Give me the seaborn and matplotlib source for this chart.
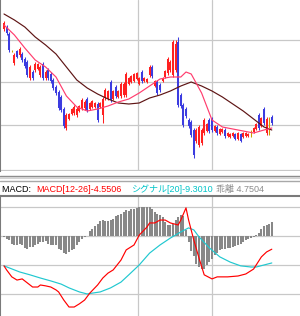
import numpy as np
import matplotlib
matplotlib.use("Agg")
import matplotlib.pyplot as plt
import seaborn as sns
from matplotlib.lines import Line2D

# ---------------- data (price panel) ----------------
opens = [271, 273, 266, 249, 237, 249, 245, 246, 241, 238, 222, 228, 230, 231, 225, 236, 222, 230, 226, 220,
         213, 208, 203, 191, 172, 181, 186, 187, 185, 189, 192, 192, 201, 191, 193, 193, 196, 193, 185, 202,
         201, 218, 201, 213, 203, 204, 205, 205, 216, 218, 219, 221, 216, 228, 219, 218, 225, 233, 214, 218,
         215, 219, 223, 227, 230, 225, 230, 258, 205, 195, 191, 180, 178, 170, 159, 155, 157, 167, 169, 180,
         181, 169, 173, 166, 168, 170, 164, 163, 164, 166, 161, 166, 163, 164, 164, 167, 168, 171, 185, 174,
         191, 167, 174, 183]
highs = [279, 275, 268, 250, 247, 250, 253, 248, 243, 240, 235, 230, 238, 237, 235, 238, 230, 232, 228, 222,
         215, 210, 205, 193, 187, 187, 192, 195, 193, 195, 202, 200, 203, 198, 200, 198, 198, 198, 203, 212,
         210, 220, 210, 215, 210, 218, 218, 228, 223, 225, 227, 228, 223, 230, 223, 222, 235, 235, 220, 220,
         217, 223, 230, 243, 240, 260, 260, 263, 207, 197, 193, 182, 180, 172, 172, 175, 172, 182, 177, 182,
         183, 175, 175, 172, 172, 172, 168, 167, 168, 167, 168, 167, 168, 168, 167, 170, 173, 177, 187, 183,
         193, 183, 183, 185]
lows = [269, 265, 248, 248, 235, 242, 243, 238, 232, 223, 220, 220, 228, 230, 223, 220, 220, 220, 217, 210,
        205, 190, 188, 172, 170, 180, 185, 185, 183, 188, 190, 190, 188, 190, 192, 192, 178, 192, 177, 200,
        200, 198, 200, 202, 202, 202, 203, 203, 215, 217, 218, 220, 215, 217, 218, 217, 223, 222, 213, 205,
        208, 218, 222, 225, 228, 223, 228, 193, 192, 173, 182, 172, 163, 142, 157, 153, 155, 165, 168, 167,
        168, 168, 165, 165, 167, 162, 163, 162, 163, 160, 160, 158, 162, 163, 163, 163, 167, 170, 170, 173,
        175, 165, 165, 175]
closes = [277, 267, 250, 249, 245, 243, 251, 240, 234, 225, 233, 222, 236, 236, 233, 222, 228, 222, 219, 212,
          207, 192, 190, 174, 185, 186, 191, 193, 191, 194, 200, 198, 190, 197, 199, 197, 180, 197, 201, 210,
          209, 200, 209, 204, 209, 216, 216, 226, 222, 224, 226, 227, 222, 219, 222, 221, 233, 224, 219, 207,
          210, 222, 229, 241, 238, 258, 256, 195, 194, 175, 184, 174, 165, 145, 170, 173, 170, 180, 176, 169,
          170, 174, 167, 171, 171, 164, 167, 166, 167, 161, 167, 159, 167, 167, 166, 167, 172, 176, 172, 182,
          177, 181, 174, 177]

ma_short_idx = [0, 4, 8, 12, 16, 20, 24, 28, 32, 36, 40, 44, 48, 52, 56, 60, 64, 68, 70, 72, 76, 80, 84, 88,
                92, 96, 100, 103]
ma_short = [275, 265, 252, 240, 233, 223, 204, 193, 189, 191, 194, 198, 201, 207, 214, 221, 223, 223, 228,
            226, 207, 180, 173, 171, 169, 167, 170, 172]
ma_long_idx = [0, 4, 8, 12, 16, 20, 24, 28, 32, 36, 40, 44, 48, 52, 56, 60, 64, 68, 72, 76, 80, 84, 88, 92,
               96, 100, 103]
ma_long = [286, 280, 273, 263, 255, 246, 233, 220, 212, 206, 201, 197, 196, 197, 202, 205, 209, 214, 218, 214,
           209, 203, 196, 189, 181, 173, 170]

# ---------------- data (MACD panel) ----------------
macd_idx = [0, 1, 3, 5, 7, 9, 11, 13, 14, 16, 18, 20, 21, 23, 25, 27, 29, 31, 33, 36, 38, 40, 42, 45, 47, 50,
            52, 55, 56, 58, 60, 62, 64, 67, 68, 70, 71, 73, 75, 77, 80, 82, 86, 90, 93, 96, 99, 101, 103]
macd_vals = [-10.3, -11.7, -14.1, -15.2, -14.8, -16.2, -17.6, -17.6, -16.9, -17.2, -17.6, -18.6, -19.3, -22.1,
             -24.5, -24.5, -23.4, -22.1, -19.7, -16.9, -14.5, -12.8, -11.7, -8.3, -4.8, -3.1, 0.3, 3.1, 4.5,
             4.5, 5.5, 5.5, 4.5, 3.8, 5.5, 9.7, 5.5, -1.4, -7.6, -13.4, -14.8, -14.1, -14.1, -13.8, -13.1,
             -11.4, -7.2, -5.5, -4.55]
signal_idx = [0, 2, 6, 10, 14, 18, 22, 25, 29, 32, 34, 37, 41, 45, 48, 52, 56, 60, 64, 68, 71, 73, 75, 79, 83,
              87, 91, 95, 97, 100, 103]
signal_vals = [-10.3, -11.0, -12.4, -13.4, -14.5, -15.5, -16.6, -17.9, -19.3, -20.0, -19.7, -19.3, -17.9,
               -15.9, -13.4, -10.0, -5.9, -3.1, -0.7, 1.4, 2.8, 2.1, -0.3, -4.1, -7.2, -9.0, -10.3, -10.7,
               -10.7, -10.0, -9.30]
hist_vals = [-0.3, -0.9, -1.5, -2.6, -3.0, -3.0, -2.6, -3.0, -4.1, -4.4, -3.8, -3.8, -3.2, -2.6, -2.1, -2.1,
             -1.8, -2.6, -3.0, -3.2, -3.0, -4.4, -4.9, -5.7, -6.1, -5.5, -4.9, -4.4, -3.2, -2.1, -1.1, -0.3,
             0.0, 1.6, 2.5, 3.4, 4.3, 5.1, 5.4, 5.2, 5.1, 5.4, 6.0, 6.9, 7.4, 7.7, 8.3, 8.9, 8.5, 9.2,
             9.4, 9.7, 10.0, 10.0, 10.0, 10.0, 10.0, 9.4, 8.3, 7.7, 7.1, 6.6, 4.8, 3.7, 3.7, 4.3, 5.4, 6.6,
             7.1, 6.9, 2.0, -2.1, -5.2, -6.9, -9.7, -10.7, -11.5, -11.3, -10.1, -9.0, -7.8, -6.7, -5.7, -4.9,
             -4.4, -4.4, -4.1, -4.1, -3.8, -3.4, -3.0, -2.6, -2.1, -1.5, -1.1, -0.7, -0.3, 0.3, 1.1, 2.5,
             3.4, 3.9, 4.3, 4.75]

price_grid = [260, 218, 175, 130]
macd_grid = [10, 0, -10, -20]
month_breaks = [51.5, 80]

header = [("MACD: ", "#000000"), ("MACD[12-26]-4.5506", "#ff0000"),
          ("シグナル[20]-9.3010", "#00c4c8"), ("乖離 4.7504", "#8c8c8c")]
header_x = [2, 36, 131, 216]

# ---------------- figure ----------------
sns.set_style("white")
plt.rcParams['font.family'] = ['Liberation Sans', 'Noto Sans CJK JP']

W, H = 300, 316
fig = plt.figure(figsize=(W / 100, H / 100), dpi=100)
fig.patch.set_facecolor("white")

def px_to_fig_y(px):
    return 1 - px / H

top_bottom_px = 171
ax1 = fig.add_axes([0, px_to_fig_y(top_bottom_px), 1, top_bottom_px / H])
ax2 = fig.add_axes([0, 0, 1, (H - 196) / H])

x_lo, x_hi = -4 / 2.6, 296 / 2.6
grid_c = "#c8c8c8"
frame_c = "#7a7a7a"

for ax in (ax1, ax2):
    ax.set_xlim(x_lo, x_hi)
    ax.set_xticks([])
    ax.set_yticks([])
    for s in ax.spines.values():
        s.set_visible(False)
    ax.spines['left'].set_visible(True)
    ax.spines['left'].set_color(frame_c)
    ax.spines['left'].set_linewidth(1.5)
    for mb in month_breaks:
        ax.axvline(mb, color=grid_c, lw=0.9, zorder=0)
    ax.set_facecolor("white")

ax2.spines['top'].set_visible(True)
ax2.spines['top'].set_color(frame_c)
ax2.spines['top'].set_linewidth(1.5)

# price panel
ax1.set_ylim(129, 300)
for g in price_grid:
    ax1.axhline(g, color=grid_c, lw=0.9, zorder=0)

idx = np.arange(len(opens))
o = np.array(opens); c = np.array(closes)
cols = np.where(c > o, "#ff2020", np.where(c < o, "#3c3ce0", "#c8a000"))
ax1.vlines(idx, lows, highs, colors=cols, linewidth=0.75, zorder=2)
ax1.vlines(idx, np.minimum(o, c), np.maximum(o, c), colors=cols, linewidth=1.45, zorder=2)

sns.lineplot(x=ma_long_idx, y=ma_long, ax=ax1, color="#5e1414", linewidth=0.85, zorder=3)
sns.lineplot(x=ma_short_idx, y=ma_short, ax=ax1, color="#ff3d6e", linewidth=0.85, zorder=4)

# MACD panel
ax2.set_ylim(-27.6, 13.8)
for g in macd_grid:
    ax2.axhline(g, color=grid_c, lw=0.9, zorder=0)
ax2.vlines(np.arange(len(hist_vals)), 0, hist_vals, colors="#888888", linewidth=1.45, zorder=2)
sns.lineplot(x=signal_idx, y=signal_vals, ax=ax2, color="#20c8d0", linewidth=0.85, zorder=3)
sns.lineplot(x=macd_idx, y=macd_vals, ax=ax2, color="#ff0000", linewidth=0.85, zorder=4)
ax1.set_xlabel(""); ax1.set_ylabel("")
ax2.set_xlabel(""); ax2.set_ylabel("")

# separator band between panels
for ypx, col, lw in [(175.5, "#8a8a8a", 1.0), (177.5, "#d4d4d4", 1.5), (180.5, "#a8a8a8", 1.0)]:
    fig.add_artist(Line2D([0, 1], [px_to_fig_y(ypx)] * 2, color=col, lw=lw, transform=fig.transFigure))

# header
for (txt, col), xp in zip(header, header_x):
    fig.text(xp / W, px_to_fig_y(189.5), txt, color=col, fontsize=6.5, va="center", ha="left")

fig.savefig("out.png", dpi=100, facecolor="white")
